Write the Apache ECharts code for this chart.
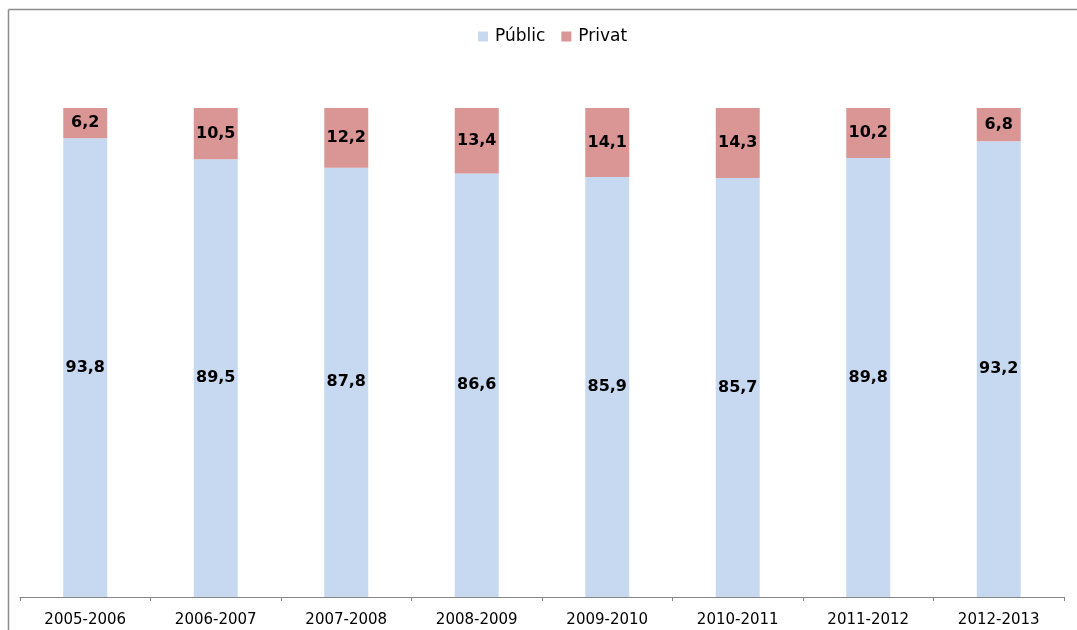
<!DOCTYPE html>
<html>
<head>
<meta charset="utf-8">
<script src="https://cdn.jsdelivr.net/npm/echarts@6/dist/echarts.min.js"></script>
<style>
html,body{margin:0;padding:0;background:#fff;}
#chart{width:1077px;height:630px;}
</style>
</head>
<body>
<div id="chart"></div>
<script>
const categories = ['2005-2006','2006-2007','2007-2008','2008-2009','2009-2010','2010-2011','2011-2012','2012-2013'];
const publicValues = [93.8, 89.5, 87.8, 86.6, 85.9, 85.7, 89.8, 93.2];
const privateValues = [6.2, 10.5, 12.2, 13.4, 14.1, 14.3, 10.2, 6.8];
const seriesNames = ['Públic', 'Privat'];

const chart = echarts.init(document.getElementById('chart'), null, {renderer:'canvas'});
const fmt = p => p.value.toFixed(1).replace('.', ',');
const labelStyle = {show:true, position:'inside', formatter:fmt, color:'#000', fontFamily:'DejaVu Sans', fontWeight:'bold', fontSize:16};
chart.setOption({
  animation:false,
  graphic:[
    {type:'line', shape:{x1:8.5,y1:9.5,x2:1077,y2:9.5}, style:{stroke:'#8c8c8c', lineWidth:1.5}},
    {type:'line', shape:{x1:8.5,y1:9.5,x2:8.5,y2:630}, style:{stroke:'#8c8c8c', lineWidth:1.5}}
  ],
  legend:{
    top:23, left:473,
    itemWidth:10, itemHeight:10, itemGap:16,
    icon:'rect',
    textStyle:{fontFamily:'DejaVu Sans', fontSize:17, color:'#000', padding:[0,0,0,2]},
    data:seriesNames
  },
  grid:{left:20, right:13, top:108, bottom:33, containLabel:false},
  xAxis:{
    type:'category', data:categories,
    axisLine:{lineStyle:{color:'#868686', width:1}},
    axisTick:{show:true, length:4, lineStyle:{color:'#868686'}},
    axisLabel:{color:'#000', fontFamily:'DejaVu Sans', fontSize:15, margin:16}
  },
  yAxis:{type:'value', min:0, max:100, show:false, splitLine:{show:false}},
  series:[
    {name:seriesNames[0], type:'bar', stack:'s', data:publicValues, barWidth:'33.7%',
     itemStyle:{color:'#c6d9f1'}, label:labelStyle},
    {name:seriesNames[1], type:'bar', stack:'s', data:privateValues, barWidth:'33.7%',
     itemStyle:{color:'#d99694'}, label:labelStyle}
  ]
});
</script>
</body>
</html>
